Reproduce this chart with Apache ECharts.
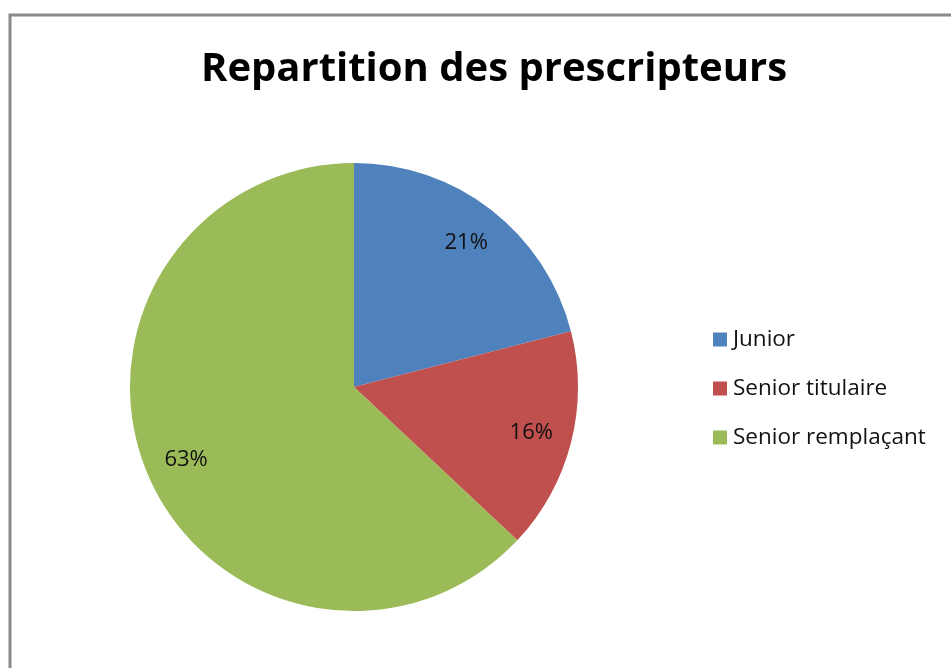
<!DOCTYPE html>
<html><head><meta charset="utf-8">
<script src="https://cdn.jsdelivr.net/npm/echarts@6/dist/echarts.min.js"></script>
<style>html,body{margin:0;padding:0;background:#fff}#c{width:951px;height:668px}</style>
</head><body><div id="c"></div>
<script>
const titleText = 'Repartition des prescripteurs';
const categories = ['Junior', 'Senior titulaire', 'Senior remplaçant'];
const values = [21, 16, 63];
const colors = ['#4F81BD', '#C0504D', '#9BBB59'];

const chart = echarts.init(document.getElementById('c'));
const data = categories.map((n, i) => ({ name: n, value: values[i], itemStyle: { color: colors[i] } }));
chart.setOption({
  animation: false,
  title: { text: titleText, left: 489, top: 45, textAlign: 'center',
    textStyle: { fontFamily: 'Open Sans', fontWeight: 'bold', fontSize: 40, color: '#000' } },
  legend: { orient: 'vertical', left: 708, top: 323, itemWidth: 14, itemHeight: 14, itemGap: 26,
    icon: 'rect', data: categories,
    textStyle: { fontFamily: 'Open Sans', fontSize: 22.5, color: '#111', padding: [0, 0, 0, 1] } },
  graphic: [{ type: 'rect', shape: { x: 10, y: 15, width: 1000, height: 700 },
    style: { fill: 'none', stroke: '#8a8a8a', lineWidth: 3 }, silent: true }],
  series: [
    { type: 'pie', center: [354, 387], radius: [0, 224], startAngle: 90, clockwise: true,
      label: { show: false }, labelLine: { show: false }, data: data, silent: true },
    { type: 'pie', center: [354, 387], radius: [136, 224], startAngle: 90, clockwise: true,
      silent: true, legendHoverLink: false,
      itemStyle: { color: 'rgba(0,0,0,0)' },
      label: { show: true, position: 'inside', formatter: p => p.value + '%',
        fontFamily: 'Open Sans', fontSize: 22, color: '#111' },
      data: categories.map((n, i) => ({ name: n + ' ', value: values[i], itemStyle: { color: 'rgba(0,0,0,0)' } })) }
  ]
});
</script></body></html>
